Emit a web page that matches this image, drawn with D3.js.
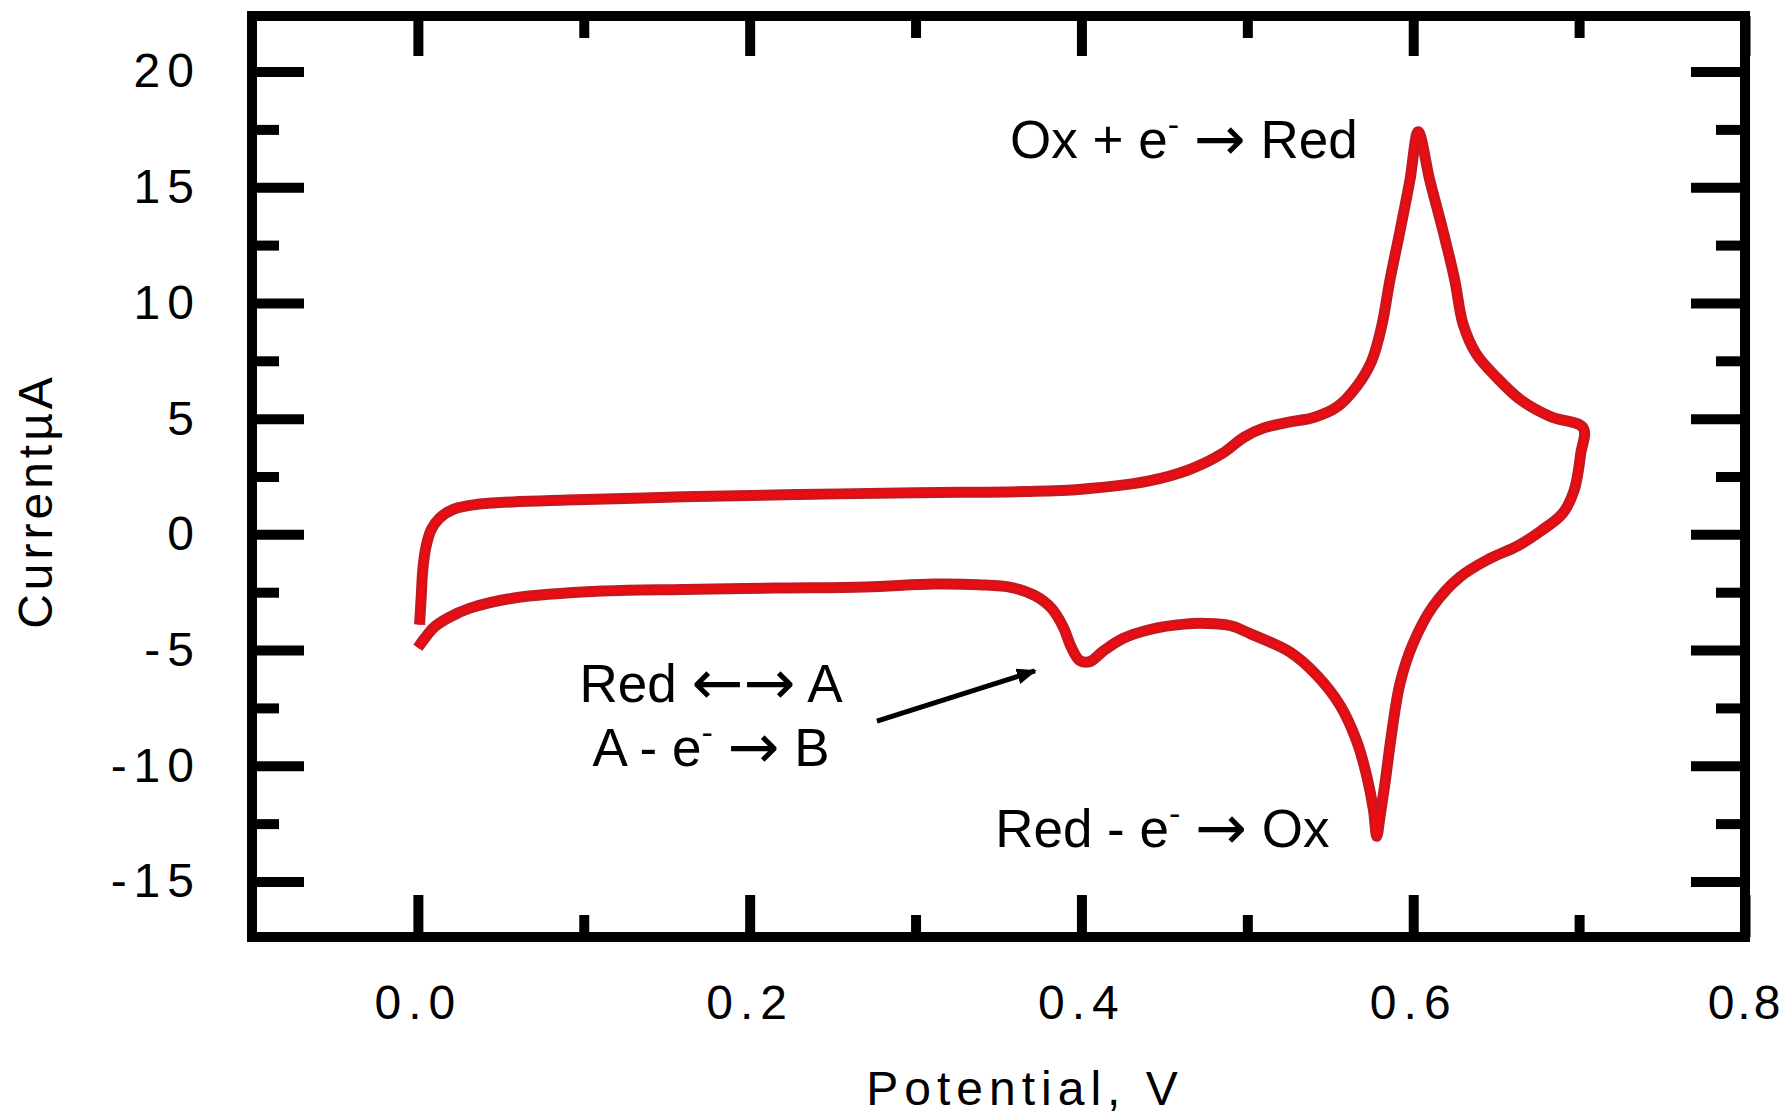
<!DOCTYPE html>
<html>
<head>
<meta charset="utf-8">
<script src="https://cdn.jsdelivr.net/npm/d3@7"></script>
<style>
	body { margin: 0; background: #fff; }
	svg { display: block; }
	.axis text { font-family: "Liberation Sans", Arial, sans-serif; letter-spacing: 7px; fill: #000; }
	.title { font-family: "Liberation Sans", Arial, sans-serif; font-size: 48px; fill: #000; }
	.note { font-family: "Liberation Sans", Arial, sans-serif; font-size: 53px; fill: #000; }
	.arrow { font-family: "DejaVu Sans", sans-serif; font-size: 62px; }
</style>
</head>
<body>
<div id="chart"></div>
<script>

/********************************************************* DONNEES *****/

// balayage aller (branche du bas) : potentiel (V), courant (µA)
const forwardScan = [
	[0.000, -4.90], [0.004, -4.50], [0.010, -4.00], [0.018, -3.62], [0.031, -3.20],
	[0.058, -2.75], [0.112, -2.45], [0.160, -2.38], [0.215, -2.32], [0.270, -2.27],
	[0.311, -2.15], [0.338, -2.18], [0.358, -2.30], [0.372, -2.65], [0.382, -3.20],
	[0.389, -4.00], [0.394, -4.90], [0.399, -5.45], [0.405, -5.50], [0.413, -5.05],
	[0.425, -4.50], [0.442, -4.10], [0.462, -3.88], [0.475, -3.85], [0.490, -3.95],
	[0.502, -4.30], [0.526, -5.10], [0.542, -6.10], [0.556, -7.40], [0.566, -8.95],
	[0.572, -10.45], [0.576, -11.90], [0.578, -13.05], [0.580, -12.20], [0.583, -10.75],
	[0.587, -8.60], [0.592, -6.45], [0.600, -4.70], [0.612, -3.10], [0.628, -1.85],
	[0.646, -1.05], [0.663, -0.50], [0.677, 0.15], [0.690, 0.90], [0.697, 1.90],
	[0.701, 3.50], [0.7025, 4.60]
];

// balayage retour (branche du haut)
const reverseScan = [
	[0.7025, 4.60], [0.683, 5.08], [0.665, 5.80], [0.650, 6.80], [0.638, 7.80],
	[0.630, 9.10], [0.625, 11.00], [0.618, 13.10], [0.610, 15.30], [0.603, 17.40],
	[0.598, 15.30], [0.592, 13.10], [0.586, 11.00], [0.581, 9.00], [0.575, 7.50],
	[0.566, 6.40], [0.554, 5.50], [0.540, 5.05], [0.525, 4.85], [0.510, 4.60],
	[0.498, 4.20], [0.485, 3.50], [0.465, 2.80], [0.440, 2.30], [0.400, 1.95],
	[0.366, 1.85], [0.300, 1.80], [0.230, 1.72], [0.160, 1.62], [0.090, 1.48],
	[0.057, 1.40], [0.036, 1.30], [0.022, 1.10], [0.013, 0.70], [0.008, 0.20],
	[0.005, -0.50], [0.003, -1.50], [0.002, -2.70], [0.001, -3.90]
];

const xMajor = [0, 0.2, 0.4, 0.6, 0.8];
const xMinor = [0.1, 0.3, 0.5, 0.7];
const xLabels = ["0.0", "0.2", "0.4", "0.6", "0.8"];

const yMajor = [20, 15, 10, 5, 0, -5, -10, -15];
const yMinor = [17.5, 12.5, 7.5, 2.5, -2.5, -7.5, -12.5];
const yLabels = ["20", "15", "10", "5", "0", "-5", "-10", "-15"];

// annotations : texte ("^-" = exposant), potentiel, courant
const notes = [
	{ text: "Ox + e^- \u2192 Red", x: 0.357, y: 16.26, anchor: "start" },
	{ text: "Red - e^- \u2192 Ox", x: 0.348, y: -13.51, anchor: "start" },
	{ text: "Red \u2190\u2192 A", x: 0.1767, y: -7.24, anchor: "middle" },
	{ text: "A - e^- \u2192 B", x: 0.1767, y: -10.01, anchor: "middle" }
];
const pointer = [[0.2767, -8.07], [0.372, -5.90]];

/********************************************************* CARTE *****/

const width = 1784, height = 1115;

const x = d3.scaleLinear().domain([-0.1, 0.8]).range([252, 1745]);
const y = d3.scaleLinear().domain([-17.4, 22.4]).range([937, 16]);

const svg = d3.select("#chart")
	.append("svg")
	.attr("width", width)
	.attr("height", height);

svg.append("rect")
	.attr("width", width).attr("height", height)
	.attr("fill", "#fff");

// courbe
const line = d3.line()
	.x(d => x(d[0]))
	.y(d => y(d[1]))
	.curve(d3.curveCatmullRom.alpha(0.5));

const cv = forwardScan.concat(reverseScan.slice(1));

svg.append("path")
	.datum(cv)
	.attr("d", line)
	.attr("fill", "none")
	.attr("stroke", "#c8181f")
	.attr("stroke-width", 11)
	.attr("stroke-linejoin", "round");

svg.append("path")
	.datum(cv)
	.attr("d", line)
	.attr("fill", "none")
	.attr("stroke", "#ec0c12")
	.attr("stroke-width", 5)
	.attr("stroke-linejoin", "round");

// axes (graduations vers l'interieur)
function styleAxis(g) {
	g.select(".domain").remove();
	g.selectAll(".tick line").attr("stroke", "#000").attr("stroke-width", 10);
	g.attr("font-size", 48).attr("font-family", "Liberation Sans, Arial, sans-serif");
}

svg.append("g").attr("class", "axis")
	.attr("transform", `translate(0,${y(-17.4)})`)
	.call(d3.axisBottom(x).tickValues(xMajor).tickSizeInner(-42).tickSizeOuter(0)
		.tickPadding(48).tickFormat((d, i) => xLabels[i]))
	.call(styleAxis);

svg.append("g").attr("class", "axis")
	.attr("transform", `translate(0,${y(-17.4)})`)
	.call(d3.axisBottom(x).tickValues(xMinor).tickSizeInner(-22).tickSizeOuter(0).tickFormat(""))
	.call(styleAxis);

svg.append("g").attr("class", "axis")
	.attr("transform", `translate(0,${y(22.4)})`)
	.call(d3.axisTop(x).tickValues(xMajor).tickSizeInner(-40).tickSizeOuter(0).tickFormat(""))
	.call(styleAxis);

svg.append("g").attr("class", "axis")
	.attr("transform", `translate(0,${y(22.4)})`)
	.call(d3.axisTop(x).tickValues(xMinor).tickSizeInner(-22).tickSizeOuter(0).tickFormat(""))
	.call(styleAxis);

svg.append("g").attr("class", "axis")
	.attr("transform", `translate(${x(-0.1)},0)`)
	.call(d3.axisLeft(y).tickValues(yMajor).tickSizeInner(-52).tickSizeOuter(0)
		.tickPadding(51).tickFormat((d, i) => yLabels[i]))
	.call(styleAxis);

svg.append("g").attr("class", "axis")
	.attr("transform", `translate(${x(-0.1)},0)`)
	.call(d3.axisLeft(y).tickValues(yMinor).tickSizeInner(-27).tickSizeOuter(0).tickFormat(""))
	.call(styleAxis);

svg.append("g").attr("class", "axis")
	.attr("transform", `translate(${x(0.8)},0)`)
	.call(d3.axisRight(y).tickValues(yMajor).tickSizeInner(-54).tickSizeOuter(0).tickFormat(""))
	.call(styleAxis);

svg.append("g").attr("class", "axis")
	.attr("transform", `translate(${x(0.8)},0)`)
	.call(d3.axisRight(y).tickValues(yMinor).tickSizeInner(-29).tickSizeOuter(0).tickFormat(""))
	.call(styleAxis);

// le dernier libelle touche le bord droit : on le resserre un peu
svg.selectAll(".axis text").filter(d => d === 0.8).style("letter-spacing", "3px");

// cadre
svg.append("rect")
	.attr("x", x(-0.1)).attr("y", y(22.4))
	.attr("width", x(0.8) - x(-0.1))
	.attr("height", y(-17.4) - y(22.4))
	.attr("fill", "none")
	.attr("stroke", "#000")
	.attr("stroke-width", 10);

// titres des axes
svg.append("text")
	.attr("class", "title")
	.attr("x", 1025).attr("y", 1105)
	.attr("text-anchor", "middle")
	.style("letter-spacing", "6px")
	.text("Potential, V");

svg.append("text")
	.attr("class", "title")
	.attr("transform", "translate(52,501) rotate(-90)")
	.attr("text-anchor", "middle")
	.style("letter-spacing", "4px")
	.text("Current\u00b5A");

// annotations
notes.forEach(n => {
	const t = svg.append("text")
		.attr("class", "note")
		.attr("x", x(n.x)).attr("y", y(n.y))
		.attr("text-anchor", n.anchor);
	let shift = 0;
	n.text.split(/(\^-|[\u2190\u2192]+)/).filter(s => s.length).forEach(s => {
		if (s === "^-") {
			t.append("tspan").attr("dy", -22).attr("font-size", 34).text("-");
			shift = 22;
		} else if (/[\u2190\u2192]/.test(s)) {
			t.append("tspan").attr("class", "arrow").attr("dy", shift + 2).text(s);
			shift = -2;
		} else {
			t.append("tspan").attr("dy", shift).text(s);
			shift = 0;
		}
	});
});

svg.append("defs").append("marker")
	.attr("id", "head")
	.attr("markerUnits", "userSpaceOnUse")
	.attr("viewBox", "0 0 20 16")
	.attr("refX", 18).attr("refY", 8)
	.attr("markerWidth", 20).attr("markerHeight", 16)
	.attr("orient", "auto")
	.append("path")
	.attr("d", "M0,0 L20,8 L0,16 Z")
	.attr("fill", "#000");

svg.append("line")
	.attr("x1", x(pointer[0][0])).attr("y1", y(pointer[0][1]))
	.attr("x2", x(pointer[1][0])).attr("y2", y(pointer[1][1]))
	.attr("stroke", "#000")
	.attr("stroke-width", 5)
	.attr("marker-end", "url(#head)");

</script>
</body>
</html>
